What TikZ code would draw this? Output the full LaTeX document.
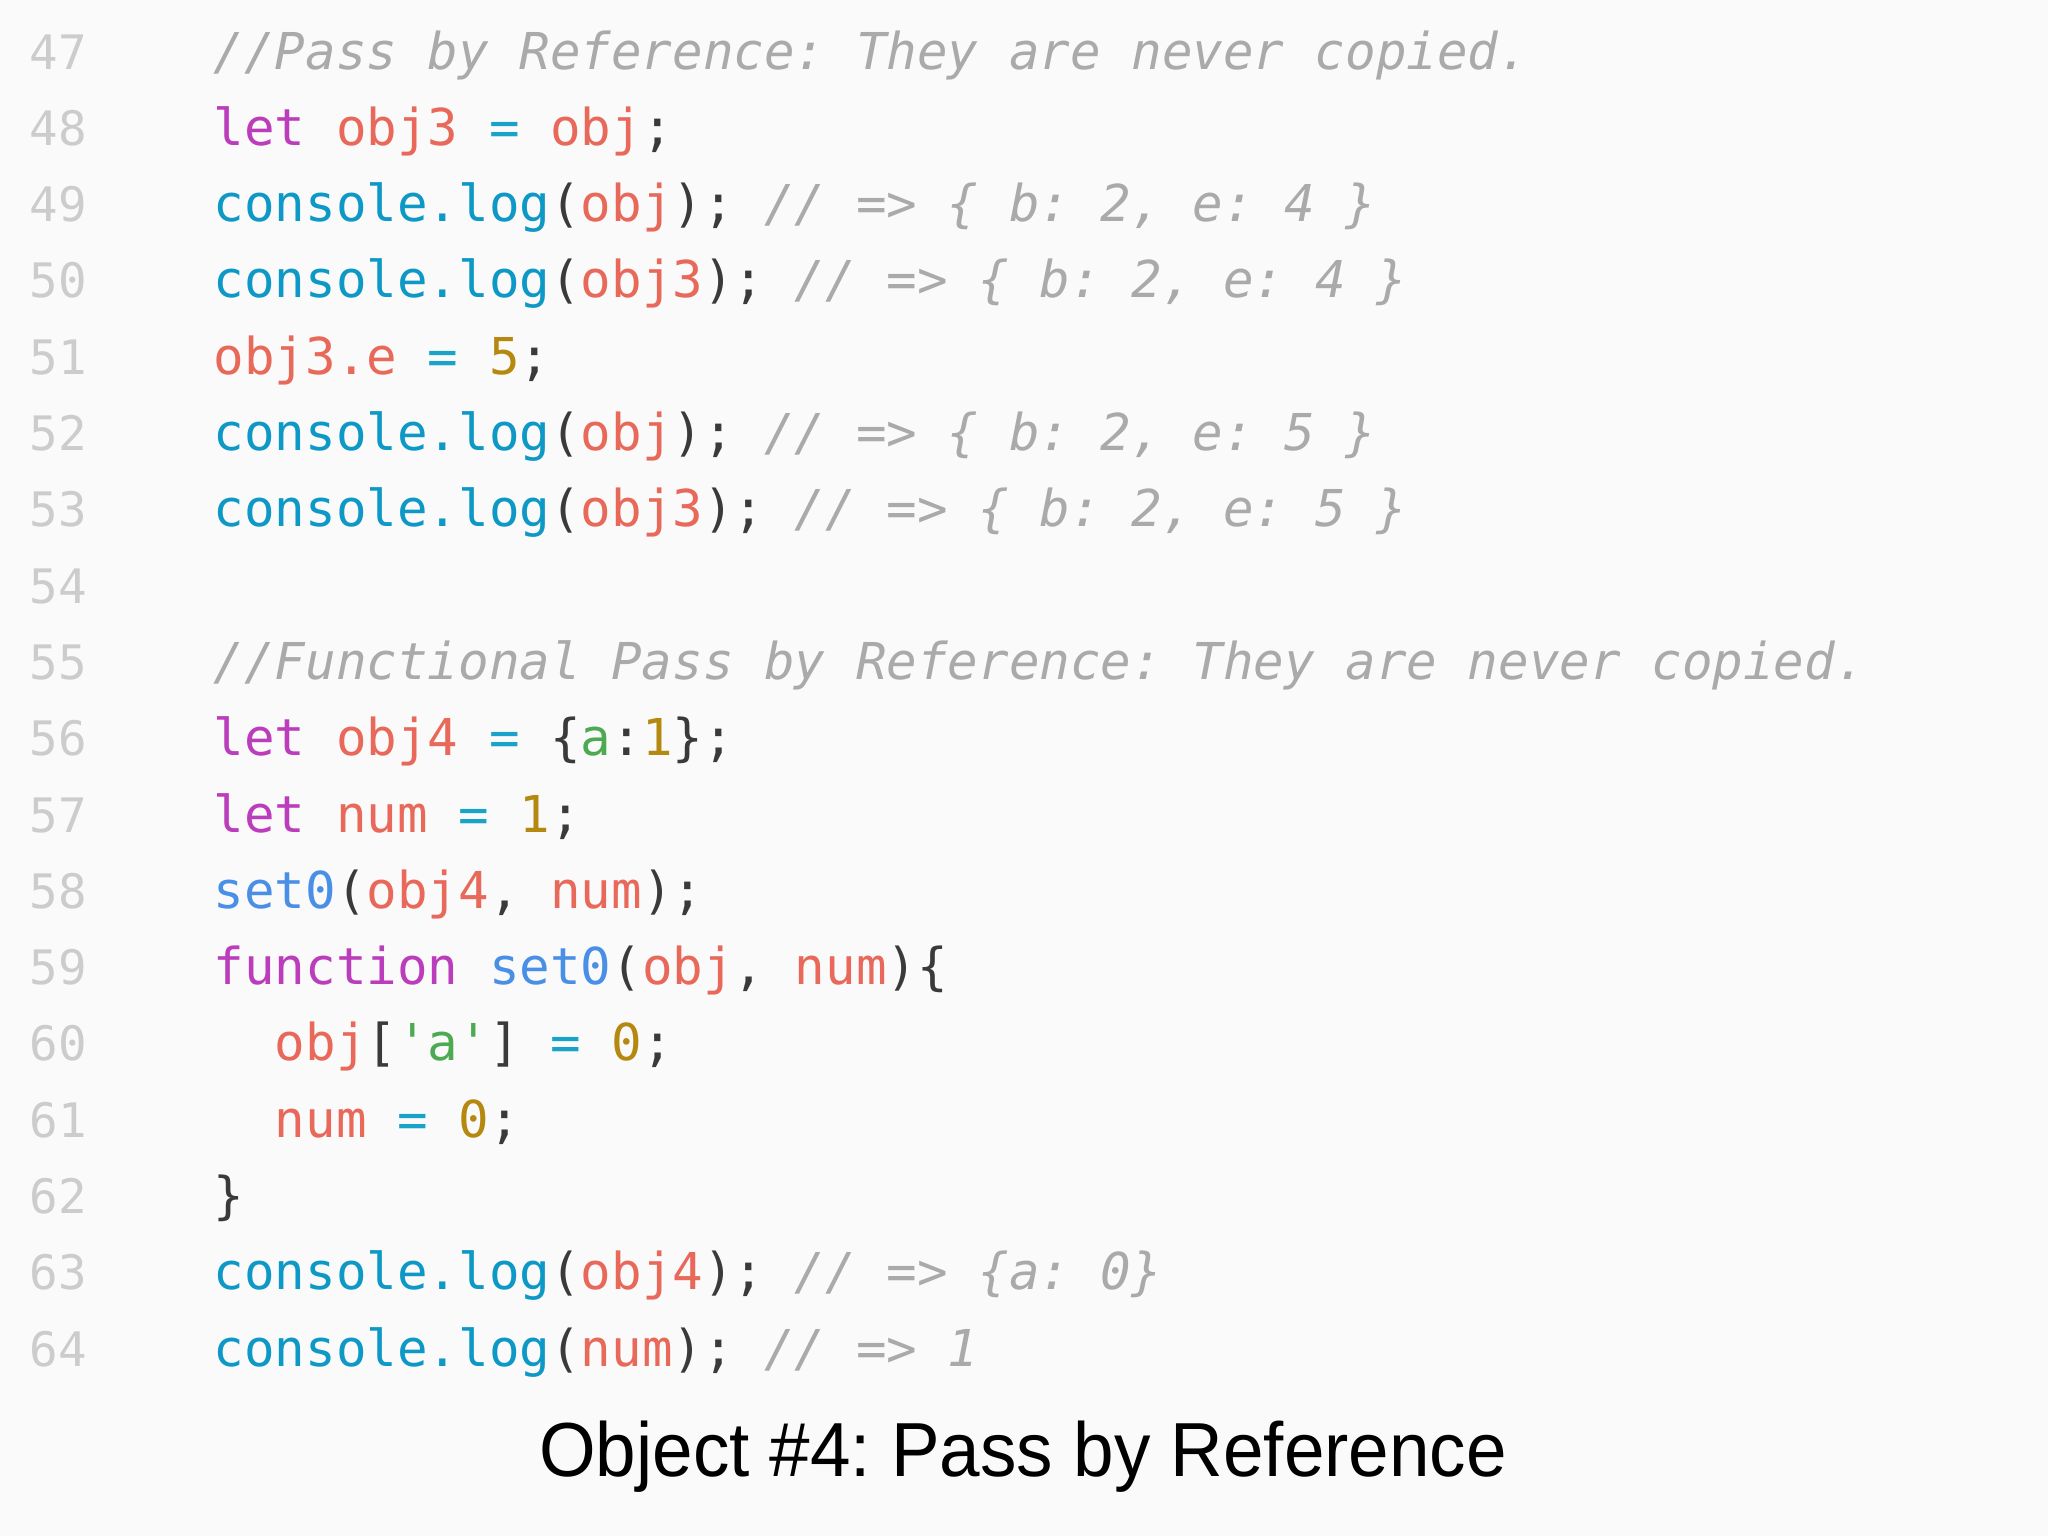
\documentclass[tikz,border=0pt]{standalone}
\usepackage{fontspec}
\setmonofont{DejaVu Sans Mono}
\newfontfamily\capfont[FakeStretch=0.95]{Liberation Sans}
\definecolor{bgcol}{HTML}{FAFAFA}
\definecolor{kwcol}{HTML}{BB3DBB}
\definecolor{varcol}{HTML}{E8685A}
\definecolor{funcol}{HTML}{0D98C6}
\definecolor{setcol}{HTML}{4A8FE6}
\definecolor{opcol}{HTML}{19A3C9}
\definecolor{numcol}{HTML}{B5880F}
\definecolor{strcol}{HTML}{4CAA52}
\definecolor{puncol}{HTML}{3A3A3A}
\definecolor{comcol}{HTML}{AAAAAA}
\definecolor{lnumcol}{HTML}{CCCCCC}
\newcommand\ckw[1]{\textcolor{kwcol}{#1}}
\newcommand\cvar[1]{\textcolor{varcol}{#1}}
\newcommand\cfun[1]{\textcolor{funcol}{#1}}
\newcommand\cset[1]{\textcolor{setcol}{#1}}
\newcommand\cop[1]{\textcolor{opcol}{#1}}
\newcommand\cnum[1]{\textcolor{numcol}{#1}}
\newcommand\cstr[1]{\textcolor{strcol}{#1}}
\newcommand\ccom[1]{\textcolor{comcol}{\itshape #1}}
\frenchspacing
\begin{document}
\begin{tikzpicture}[x=0.01cm,y=-0.01cm,
	code/.style={anchor=base west,inner sep=0pt,text=puncol,font=\ttfamily\fontsize{14.45}{16}\selectfont},
	lnum/.style={anchor=base west,inner sep=0pt,text=lnumcol,font=\ttfamily\fontsize{13.5}{16}\selectfont},
	caption/.style={anchor=base,inner sep=0pt,font=\capfont\fontsize{21.8}{26}\selectfont}]
	\fill[bgcol] (0,0) rectangle (2048,1536);
	\useasboundingbox (0,0) rectangle (2048,1536);
	\foreach \i in {47,...,64}{
		\coordinate (c\i) at (213,{69+(\i-47)*76.3});
		\node[lnum] (n\i) at (29,{69+(\i-47)*76.3}) {\i};
	}
	\node[code] (l47) at (c47) {\ccom{//Pass by Reference: They are never copied.}};
	\node[code] (l48) at (c48) {\ckw{let} \cvar{obj3} \cop{=} \cvar{obj};};
	\node[code] (l49) at (c49) {\cfun{console.log}(\cvar{obj}); \ccom{// => \{ b: 2, e: 4 \}}};
	\node[code] (l50) at (c50) {\cfun{console.log}(\cvar{obj3}); \ccom{// => \{ b: 2, e: 4 \}}};
	\node[code] (l51) at (c51) {\cvar{obj3.e} \cop{=} \cnum{5};};
	\node[code] (l52) at (c52) {\cfun{console.log}(\cvar{obj}); \ccom{// => \{ b: 2, e: 5 \}}};
	\node[code] (l53) at (c53) {\cfun{console.log}(\cvar{obj3}); \ccom{// => \{ b: 2, e: 5 \}}};
	\node[code] (l55) at (c55) {\ccom{//Functional Pass by Reference: They are never copied.}};
	\node[code] (l56) at (c56) {\ckw{let} \cvar{obj4} \cop{=} \{\cstr{a}:\cnum{1}\};};
	\node[code] (l57) at (c57) {\ckw{let} \cvar{num} \cop{=} \cnum{1};};
	\node[code] (l58) at (c58) {\cset{set0}(\cvar{obj4}, \cvar{num});};
	\node[code] (l59) at (c59) {\ckw{function} \cset{set0}(\cvar{obj}, \cvar{num})\{};
	\node[code] (l60) at (c60) {\ \ \cvar{obj}[\cstr{'a'}] \cop{=} \cnum{0};};
	\node[code] (l61) at (c61) {\ \ \cvar{num} \cop{=} \cnum{0};};
	\node[code] (l62) at (c62) {\}};
	\node[code] (l63) at (c63) {\cfun{console.log}(\cvar{obj4}); \ccom{// => \{a: 0\}}};
	\node[code] (l64) at (c64) {\cfun{console.log}(\cvar{num}); \ccom{// => 1}};
	% caption under the listing
	\node[caption] (title) at (1023,1476) {Object \#4: Pass by Reference};
\end{tikzpicture}
\end{document}
